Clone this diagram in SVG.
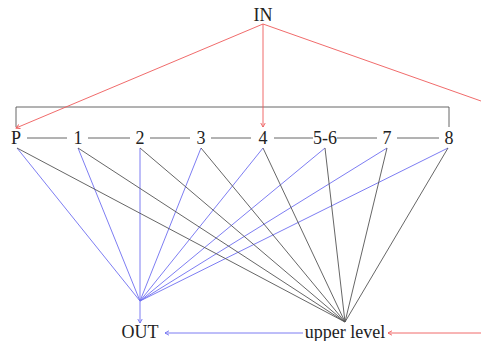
<svg xmlns="http://www.w3.org/2000/svg" width="481" height="341" viewBox="0 0 481 341">
<defs>
<style>
text{font-family:"Liberation Serif","DejaVu Serif",serif;font-size:18px;fill:#222;text-anchor:middle}
.k{stroke:#555;stroke-width:0.9;fill:none}
.b{stroke:#6e6ef0;stroke-width:0.9;fill:none}
.r{stroke:#ee5a5a;stroke-width:0.9;fill:none}
.w{fill:#fff;stroke:none}
</style>
<marker id="ar" viewBox="-5 -3 6 6" refX="0" refY="0" markerWidth="6" markerHeight="6" markerUnits="userSpaceOnUse" orient="auto"><path d="M-4,-2.2 Q-1,-0.6 0,0 Q-1,0.6 -4,2.2" fill="none" stroke="#ee5a5a" stroke-width="0.9"/></marker>
<marker id="ab" viewBox="-5 -3 6 6" refX="0" refY="0" markerWidth="6" markerHeight="6" markerUnits="userSpaceOnUse" orient="auto"><path d="M-4,-2.2 Q-1,-0.6 0,0 Q-1,0.6 -4,2.2" fill="none" stroke="#6e6ef0" stroke-width="0.9"/></marker>
</defs>
<g id="connectors">
<path class="k" d="M16,127 V107 H449 V127"/>
<path class="k" d="M27,138 H67 M88,138 H130 M150,138 H190 M211,138 H251 M274,138 H313 M337,138 H377 M397,138 H439"/>
<path class="r" d="M263,24 L16,128" marker-end="url(#ar)"/>
<path class="r" d="M263,24 V127" marker-end="url(#ar)"/>
<path class="r" d="M263,24 L481,101"/>
<path class="r" d="M481,333 H388" marker-end="url(#ar)"/>
<g class="b">
<path d="M17,148 L140,301"/>
<path d="M78,148 L140,301"/>
<path d="M140,148 L140,301"/>
<path d="M201,148 L140,301"/>
<path d="M263,148 L140,301"/>
<path d="M325,148 L140,301"/>
<path d="M387,148 L140,301"/>
<path d="M448,148 L140,301"/>
</g>
<g class="k">
<path d="M17,148 L345,322"/>
<path d="M78,148 L345,322"/>
<path d="M140,148 L345,322"/>
<path d="M201,148 L345,322"/>
<path d="M263,148 L345,322"/>
<path d="M325,148 L345,322"/>
<path d="M387,148 L345,322"/>
<path d="M448,148 L345,322"/>
</g>
<path class="b" d="M140,301 V323" marker-end="url(#ab)"/>
<path class="b" d="M303,333 H165" marker-end="url(#ab)"/>
</g>
<g id="IN"><text x="263" y="21">IN</text></g>
<g id="P"><text x="16" y="144">P</text></g>
<g id="n1"><text x="78" y="144">1</text></g>
<g id="n2"><text x="140" y="144">2</text></g>
<g id="n3"><text x="201" y="144">3</text></g>
<g id="n4"><text x="263" y="144">4</text></g>
<g id="n56"><text x="325" y="144">5-6</text></g>
<g id="n7"><text x="387" y="144">7</text></g>
<g id="n8"><text x="449" y="144">8</text></g>
<g id="OUT"><text x="140" y="338">OUT</text></g>
<g id="upper"><text x="345" y="338">upper level</text></g>
</svg>
